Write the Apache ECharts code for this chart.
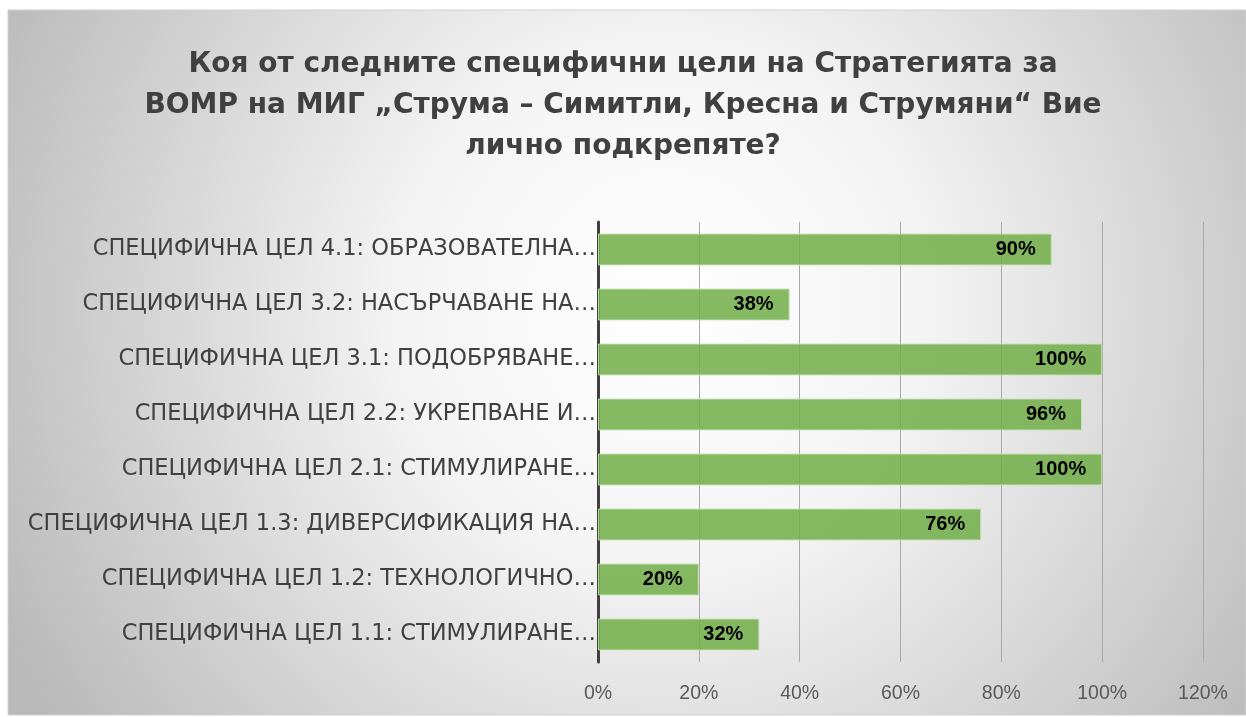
<!DOCTYPE html>
<html>
  <head>
    <meta charset="utf-8" />
    <title>ECharts</title>
    <script src="https://cdn.jsdelivr.net/npm/echarts@6/dist/echarts.min.js"></script>
    <style>
      html, body { margin: 0; padding: 0; background: #fff; }
    </style>
  </head>
  <body>
    <div id="main" style="width: 1246px;height:717px;"></div>
    <script type="text/javascript">
      // categories bottom to top (category axis draws first item at the bottom)
      var categories = [
        'СПЕЦИФИЧНА ЦЕЛ 1.1: СТИМУЛИРАНЕ…',
        'СПЕЦИФИЧНА ЦЕЛ 1.2: ТЕХНОЛОГИЧНО…',
        'СПЕЦИФИЧНА ЦЕЛ 1.3: ДИВЕРСИФИКАЦИЯ НА…',
        'СПЕЦИФИЧНА ЦЕЛ 2.1: СТИМУЛИРАНЕ…',
        'СПЕЦИФИЧНА ЦЕЛ 2.2: УКРЕПВАНЕ И…',
        'СПЕЦИФИЧНА ЦЕЛ 3.1: ПОДОБРЯВАНЕ…',
        'СПЕЦИФИЧНА ЦЕЛ 3.2: НАСЪРЧАВАНЕ НА…',
        'СПЕЦИФИЧНА ЦЕЛ 4.1: ОБРАЗОВАТЕЛНА…'
      ];
      var values = [32, 20, 76, 100, 96, 100, 38, 90];
      var titleText = 'Коя от следните специфични цели на Стратегията за\nВОМР на МИГ „Струма – Симитли, Кресна и Струмяни“ Вие\nлично подкрепяте?';

      var chartDom = document.getElementById('main');
      var myChart = echarts.init(chartDom);
      var option;

      option = {
        animation: false,
        backgroundColor: '#ffffff',
        graphic: [
          {
            type: 'rect',
            z: -10,
            silent: true,
            shape: { x: 8, y: 10, width: 1238, height: 705 },
            style: {
              fill: {
                type: 'radial',
                x: 0.53,
                y: 0.42,
                r: 1.05,
                colorStops: [
                  { offset: 0, color: '#ffffff' },
                  { offset: 0.35, color: '#f4f4f4' },
                  { offset: 1, color: '#b9b9b9' }
                ]
              },
              stroke: '#d0d0d0',
              lineWidth: 1
            }
          }
        ],
        title: {
          text: titleText,
          left: 'center',
          top: 39,
          textStyle: {
            fontFamily: 'DejaVu Sans',
            fontSize: 28,
            fontWeight: 'bold',
            color: '#404040',
            lineHeight: 41
          }
        },
        grid: {
          left: 598,
          right: 43,
          top: 222,
          bottom: 55,
          containLabel: false
        },
        xAxis: {
          type: 'value',
          min: 0,
          max: 120,
          interval: 20,
          axisLine: { show: false },
          axisTick: { show: false },
          splitLine: { lineStyle: { color: '#a9a9a9', width: 1 } },
          axisLabel: {
            formatter: '{value}%',
            color: '#595959',
            fontSize: 19.5,
            fontFamily: 'Liberation Sans',
            margin: 22
          }
        },
        yAxis: {
          type: 'category',
          data: categories,
          axisLine: { lineStyle: { color: '#404040', width: 3 } },
          axisTick: { show: false },
          axisLabel: {
            color: '#404040',
            fontSize: 22.5,
            fontFamily: 'DejaVu Sans',
            margin: 2
          }
        },
        series: [
          {
            type: 'bar',
            data: values,
            barWidth: '58%',
            itemStyle: {
              color: 'rgba(112, 173, 71, 0.85)',
              borderColor: 'rgba(197, 224, 180, 0.9)',
              borderWidth: 1
            },
            label: {
              show: true,
              position: 'insideRight',
              distance: 16,
              formatter: '{c}%',
              color: '#000000',
              fontSize: 20,
              fontWeight: 'bold',
              fontFamily: 'Liberation Sans'
            }
          }
        ]
      };

      option && myChart.setOption(option);
    </script>
  </body>
</html>
